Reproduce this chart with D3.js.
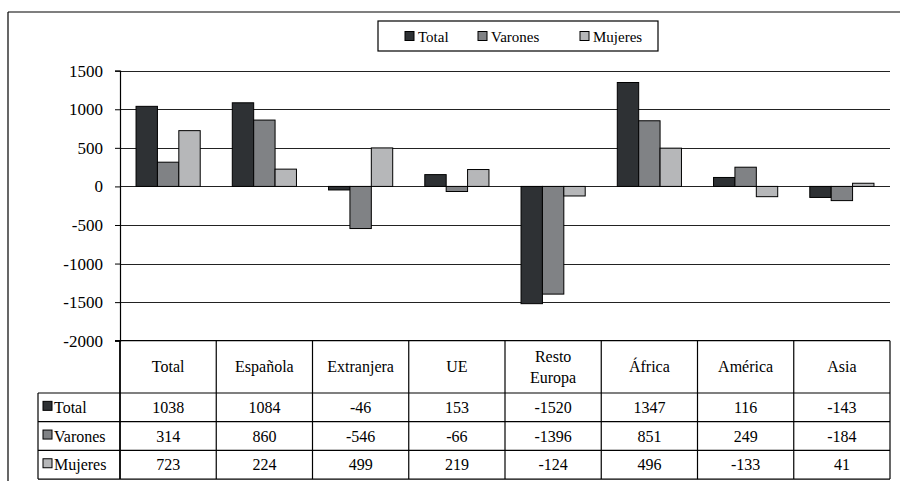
<!DOCTYPE html>
<html>
<head>
<meta charset="utf-8">
<script src="https://cdn.jsdelivr.net/npm/d3@7"></script>
</head>
<body style="margin:0;padding:0;background:#fff">
<svg id="chart" width="900" height="481" style="display:block" font-family="Liberation Serif"></svg>
<script>
// Saldo migratorio por nacionalidad y sexo
const categories = ["Total", "Española", "Extranjera", "UE", "Resto\nEuropa", "África", "América", "Asia"];
const seriesNames = ["Total", "Varones", "Mujeres"];
const totalValues   = [1038, 1084, -46, 153, -1520, 1347, 116, -143];
const varonesValues = [314, 860, -546, -66, -1396, 851, 249, -184];
const mujeresValues = [723, 224, 499, 219, -124, 496, -133, 41];
const yTicks = [1500, 1000, 500, 0, -500, -1000, -1500, -2000];
const seriesColors = ["#2e3134", "#808285", "#b6b7b9"];

const seriesValues = [totalValues, varonesValues, mujeresValues];
const textStyle = size => `font-family:'Liberation Serif',Tinos,'Times New Roman',serif;font-size:${size}px;fill:#000`;

const svg = d3.select("#chart");

const plotLeft = 120, plotRight = 890;
const plotTop = 70.7, plotBottom = 340.7;
const headerBottom = 393;
const rowH = 28.7;
const tableLeft = 38;

// Outer frame (top and left edges)
svg.append("line").attr("x1", 8).attr("x2", 900).attr("y1", 12).attr("y2", 12)
  .attr("stroke", "#000").attr("stroke-width", 1.2);
svg.append("line").attr("x1", 8).attr("x2", 8).attr("y1", 12).attr("y2", 481)
  .attr("stroke", "#000").attr("stroke-width", 1.2);

const y = d3.scaleLinear().domain([-2000, 1500]).range([plotBottom, plotTop]);
const x = d3.scaleBand().domain(d3.range(categories.length)).range([plotLeft, plotRight]).paddingInner(0).paddingOuter(0);
const groupW = x.bandwidth() / 1.5;
const xs = d3.scaleBand().domain(d3.range(seriesNames.length)).range([0, groupW]);

// Gridlines
svg.append("g").selectAll("line").data(yTicks.slice(0, -1)).join("line")
  .attr("x1", plotLeft).attr("x2", plotRight)
  .attr("y1", d => Math.round(y(d)) + 0.5).attr("y2", d => Math.round(y(d)) + 0.5)
  .attr("stroke", "#222").attr("stroke-width", 1);

// Y axis
const yAxis = d3.axisLeft(y).tickValues(yTicks).tickSize(5).tickPadding(12).tickFormat(d => String(d));
const yg = svg.append("g").attr("transform", `translate(${plotLeft},0)`).call(yAxis)
  .attr("font-family", "Liberation Serif").attr("font-size", 17);
yg.select(".domain").attr("stroke", "#000").attr("stroke-width", 1.2);
yg.selectAll(".tick line").attr("stroke", "#000");
yg.selectAll(".tick text").attr("style", textStyle(17));

// Bars
seriesValues.forEach((vals, si) => {
  svg.append("g").selectAll("rect").data(vals).join("rect")
    .attr("x", (d, i) => x(i) + (x.bandwidth() - groupW) / 2 + xs(si))
    .attr("width", xs.bandwidth())
    .attr("y", d => y(Math.max(0, d)))
    .attr("height", d => Math.abs(y(d) - y(0)))
    .attr("fill", seriesColors[si])
    .attr("stroke", "#000").attr("stroke-width", 1);
});

// Legend
const legend = svg.append("g");
legend.append("rect").attr("x", 378).attr("y", 21).attr("width", 280).attr("height", 30)
  .attr("fill", "#fff").attr("stroke", "#000").attr("stroke-width", 1.2);
const legendX = [405, 478, 580];
seriesNames.forEach((name, i) => {
  legend.append("rect").attr("x", legendX[i]).attr("y", 31.5).attr("width", 9).attr("height", 9)
    .attr("fill", seriesColors[i]).attr("stroke", "#000").attr("stroke-width", 1);
  legend.append("text").attr("x", legendX[i] + 13).attr("y", 41.5)
    .attr("style", textStyle(15)).text(name);
});

// Data table
const table = svg.append("g");
const lineAttrs = sel => sel.attr("stroke", "#000").attr("stroke-width", 1.2);
// horizontal lines
table.append("line").attr("x1", plotLeft - 5).attr("x2", plotRight).attr("y1", plotBottom).attr("y2", plotBottom).call(lineAttrs);
for (let r = 0; r <= 3; r++) {
  const yy = headerBottom + r * rowH;
  table.append("line").attr("x1", tableLeft).attr("x2", plotRight).attr("y1", yy).attr("y2", yy).call(lineAttrs);
}
// vertical lines
for (let c = 0; c <= categories.length; c++) {
  const xx = plotLeft + c * x.bandwidth();
  table.append("line").attr("x1", xx).attr("x2", xx)
    .attr("y1", plotBottom).attr("y2", headerBottom + 3 * rowH).call(lineAttrs)
    .attr("stroke-width", c === 0 ? 1.8 : 1.2);
}
table.append("line").attr("x1", tableLeft).attr("x2", tableLeft)
  .attr("y1", headerBottom).attr("y2", headerBottom + 3 * rowH).call(lineAttrs);

// header labels
categories.forEach((c, i) => {
  const lines = c.split("\n");
  const cx = x(i) + x.bandwidth() / 2;
  const midY = (plotBottom + headerBottom) / 2;
  const t = table.append("text").attr("text-anchor", "middle").attr("style", textStyle(16));
  lines.forEach((ln, k) => {
    t.append("tspan").attr("x", cx)
      .attr("y", midY + 5.5 + (k - (lines.length - 1) / 2) * 21)
      .text(ln);
  });
});

// rows
seriesValues.forEach((vals, si) => {
  const rowMid = headerBottom + si * rowH + rowH / 2;
  table.append("rect").attr("x", tableLeft + 5).attr("y", rowMid - 6).attr("width", 9).attr("height", 9)
    .attr("fill", seriesColors[si]).attr("stroke", "#000").attr("stroke-width", 1);
  table.append("text").attr("x", tableLeft + 16).attr("y", rowMid + 5.5)
    .attr("style", textStyle(16)).text(seriesNames[si]);
  vals.forEach((v, i) => {
    table.append("text").attr("x", x(i) + x.bandwidth() / 2).attr("y", rowMid + 5.5)
      .attr("text-anchor", "middle").attr("style", textStyle(16)).text(v);
  });
});
</script>
</body>
</html>
